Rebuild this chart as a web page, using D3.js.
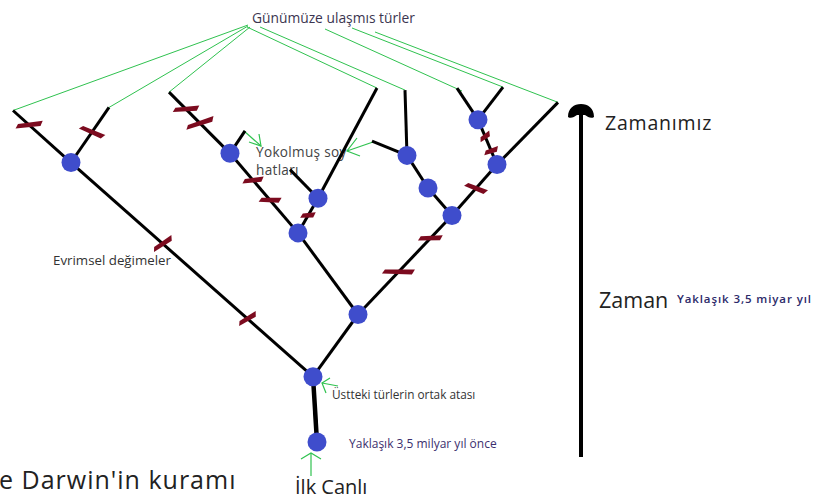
<!DOCTYPE html>
<html><head><meta charset="utf-8">
<script src="https://cdn.jsdelivr.net/npm/d3@7/dist/d3.min.js"></script>
<style>
html,body{margin:0;padding:0;background:#fff;overflow:hidden;}
svg{display:block;}
text{font-family:"Open Sans","Noto Sans",sans-serif;}
</style></head>
<body>
<svg id="chart" width="814" height="500"></svg>
<script>
// ---- DATA ----
// tree nodes: horizontal lineage position, age in billion years before present
const nodeIds  = ["root","anc","n1","L1","L2","n2","n3","n4","L3","E1","n5","L4","E2","n6","n7","n8","L5","E3","n9","n10","L6","L7","L8"];
const nodePos  = [317, 313, 71, 13, 109, 358, 298, 230, 169, 245, 318, 377, 290, 452, 428, 407, 405, 372, 497, 478, 457, 503, 558];
const nodeAge  = [3.50, 2.86, 0.76, 0.25, 0.22, 2.25, 1.45, 0.67, 0.07, 0.45, 1.11, 0.03, 0.83, 1.28, 1.01, 0.69, 0.05, 0.55, 0.78, 0.34, 0.03, 0.02, 0.17];
const nodeKind = ["dot","dot","dot","leaf","leaf","dot","dot","dot","leaf","extinct","dot","leaf","extinct","dot","dot","dot","leaf","extinct","dot","dot","leaf","leaf","leaf"];
// branches (parent -> child)
const branches = [["root","anc"],["anc","n1"],["n1","L1"],["n1","L2"],["anc","n2"],["n2","n3"],["n3","n4"],["n4","L3"],["n4","E1"],["n3","n5"],["n5","L4"],["n5","E2"],["n2","n6"],["n6","n7"],["n7","n8"],["n8","L5"],["n8","E3"],["n6","n9"],["n9","n10"],["n10","L6"],["n10","L7"],["n9","L8"]];
// evolutionary change marks: branch index and fraction along it
const markBranch = [2, 3, 7, 7, 6, 6, 9, 1, 1, 12, 12, 17, 18, 18];
const markFrac   = [0.72, 0.55, 0.72, 0.49, 0.66, 0.41, 0.5, 0.62, 0.27, 0.43, 0.77, 0.53, 0.62, 0.30];
const markAngle  = [-8, 22, -5, -19, -8, 0, -5, -35, -32, 0, -3, 20, -38, -20];
const markLen    = [28, 27, 27, 30, 22, 23, 16, 24, 22, 33, 25, 24, 14, 16];
// living species leaders
const livingLeaves = ["L1","L2","L3","L4","L5","L6","L7","L8"];
// time axis
const timeDomain = [0, 3.5];

// ---- CHART ----
const svg = d3.select("#chart");
const x = d3.scaleLinear().domain([0, 814]).range([0, 814]);
const y = d3.scaleLinear().domain(timeDomain).range([85, 442]);

const nodes = nodeIds.map((id, i) => ({id, pos: nodePos[i], age: nodeAge[i], kind: nodeKind[i]}));
const byId = new Map(nodes.map(n => [n.id, n]));
const px = n => x(n.pos), py = n => y(n.age);

const green = "#2fc24f";

// leader start points near the title
const leaderStart = {L1:[248,25],L2:[248,26],L3:[250,27],L4:[247,27],L5:[260,27],L6:[325,29],L7:[352,28],L8:[375,32]};
const leaderOff = {L6:[5,3]};

// texts (under lines)
const texts = [
  {t:"Günümüze ulaşmıs türler", x:252, y:23, s:13.8, c:"#3b3550"},
  {t:"Yokolmuş soy", x:256, y:157, s:13.6, c:"#444", ls:0.3},
  {t:"hatları", x:256, y:175, s:13.6, c:"#444", ls:0.3},
  {t:"Evrimsel değimeler", x:53, y:265, s:13.3, c:"#333"},
  {t:"Üstteki türlerin ortak atası", x:332, y:399, s:11.8, c:"#333"},
  {t:"Yaklaşık 3,5 milyar yıl önce", x:349, y:448, s:12, c:"#3c2f6e"},
  {t:"Zamanımız", x:605, y:130, s:19.5, c:"#222", ls:0.8},
  {t:"Zaman", x:599, y:308, s:21.5, c:"#222"},
  {t:"Yaklaşık 3,5 miyar yıl", x:677, y:303, s:11.5, c:"#2c2a6a", w:"600", ls:0.9},
  {t:"İlk Canlı", x:295, y:494, s:20, c:"#222"},
  {t:"e Darwin'in kuramı", x:-1, y:489, s:25, c:"#222", ls:1}
];
svg.append("g").selectAll("text").data(texts).join("text")
  .attr("x", d => d.x).attr("y", d => d.y)
  .attr("font-size", d => d.s).attr("fill", d => d.c)
  .attr("font-weight", d => d.w || "400")
  .attr("letter-spacing", d => d.ls || 0)
  .text(d => d.t);

// green leaders
svg.append("g").selectAll("line").data(livingLeaves).join("line")
  .attr("x1", d => leaderStart[d][0]).attr("y1", d => leaderStart[d][1])
  .attr("x2", d => px(byId.get(d)) + (leaderOff[d] ? leaderOff[d][0] : 0))
  .attr("y2", d => py(byId.get(d)) + (leaderOff[d] ? leaderOff[d][1] : 0))
  .attr("stroke", green).attr("stroke-width", 1);

// green arrows
const arrows = [
  {line:[[244,131],[261,146]], head:[[259,134],[261,146],[249,142]]},
  {line:[[373,142],[347,151]], head:[[357,138],[347,151],[360,156]]},
  {line:[[338,386],[322,383]], head:[[330,378],[322,383],[326,393]]},
  {line:[[311,476],[311,453]], head:[[301,459],[311,453],[321,459]]}
];
const lg = svg.append("g").attr("fill","none").attr("stroke", green).attr("stroke-width", 1.2);
arrows.forEach(a => {
  lg.append("path").attr("d", d3.line()(a.line));
  lg.append("path").attr("d", d3.line()(a.head));
});

// branches
svg.append("g").selectAll("line").data(branches).join("line")
  .attr("x1", d => px(byId.get(d[0]))).attr("y1", d => py(byId.get(d[0])))
  .attr("x2", d => px(byId.get(d[1]))).attr("y2", d => py(byId.get(d[1])))
  .attr("stroke", "#000")
  .attr("stroke-width", d => d[0] === "root" ? 4.5 : 3)
  .attr("stroke-linecap", "butt");

// change marks
const marks = markBranch.map((b, i) => {
  const a = byId.get(branches[b][0]), c = byId.get(branches[b][1]);
  const f = markFrac[i];
  return {cx: px(a) + (px(c) - px(a)) * f, cy: py(a) + (py(c) - py(a)) * f, ang: markAngle[i], len: markLen[i]};
});
svg.append("g").selectAll("path").data(marks).join("path")
  .attr("transform", d => `translate(${d.cx},${d.cy}) rotate(${d.ang})`)
  .attr("d", d => `M${-d.len/2},1.5 L${-d.len/2+3},-2.5 L${d.len/2},-2.5 L${d.len/2-3},2.5 Z`)
  .attr("fill", "#7c0b1f");

// nodes
svg.append("g").selectAll("circle").data(nodes.filter(n => n.kind === "dot")).join("circle")
  .attr("cx", px).attr("cy", py).attr("r", 9.5)
  .attr("fill", "#3f4dcc");

// time arrow
const ta = svg.append("g");
ta.append("line").attr("x1", 581).attr("x2", 581).attr("y1", y(3.5) + 15).attr("y2", 112)
  .attr("stroke", "#000").attr("stroke-width", 4);
ta.append("path")
  .attr("d", "M568,117 C568,108 574,104 581,104 C588,104 594,108 594,117 C591,119 588,117 585,115 L577,115 C574,117 571,119 568,117 Z")
  .attr("fill", "#000");
</script>
</body></html>
